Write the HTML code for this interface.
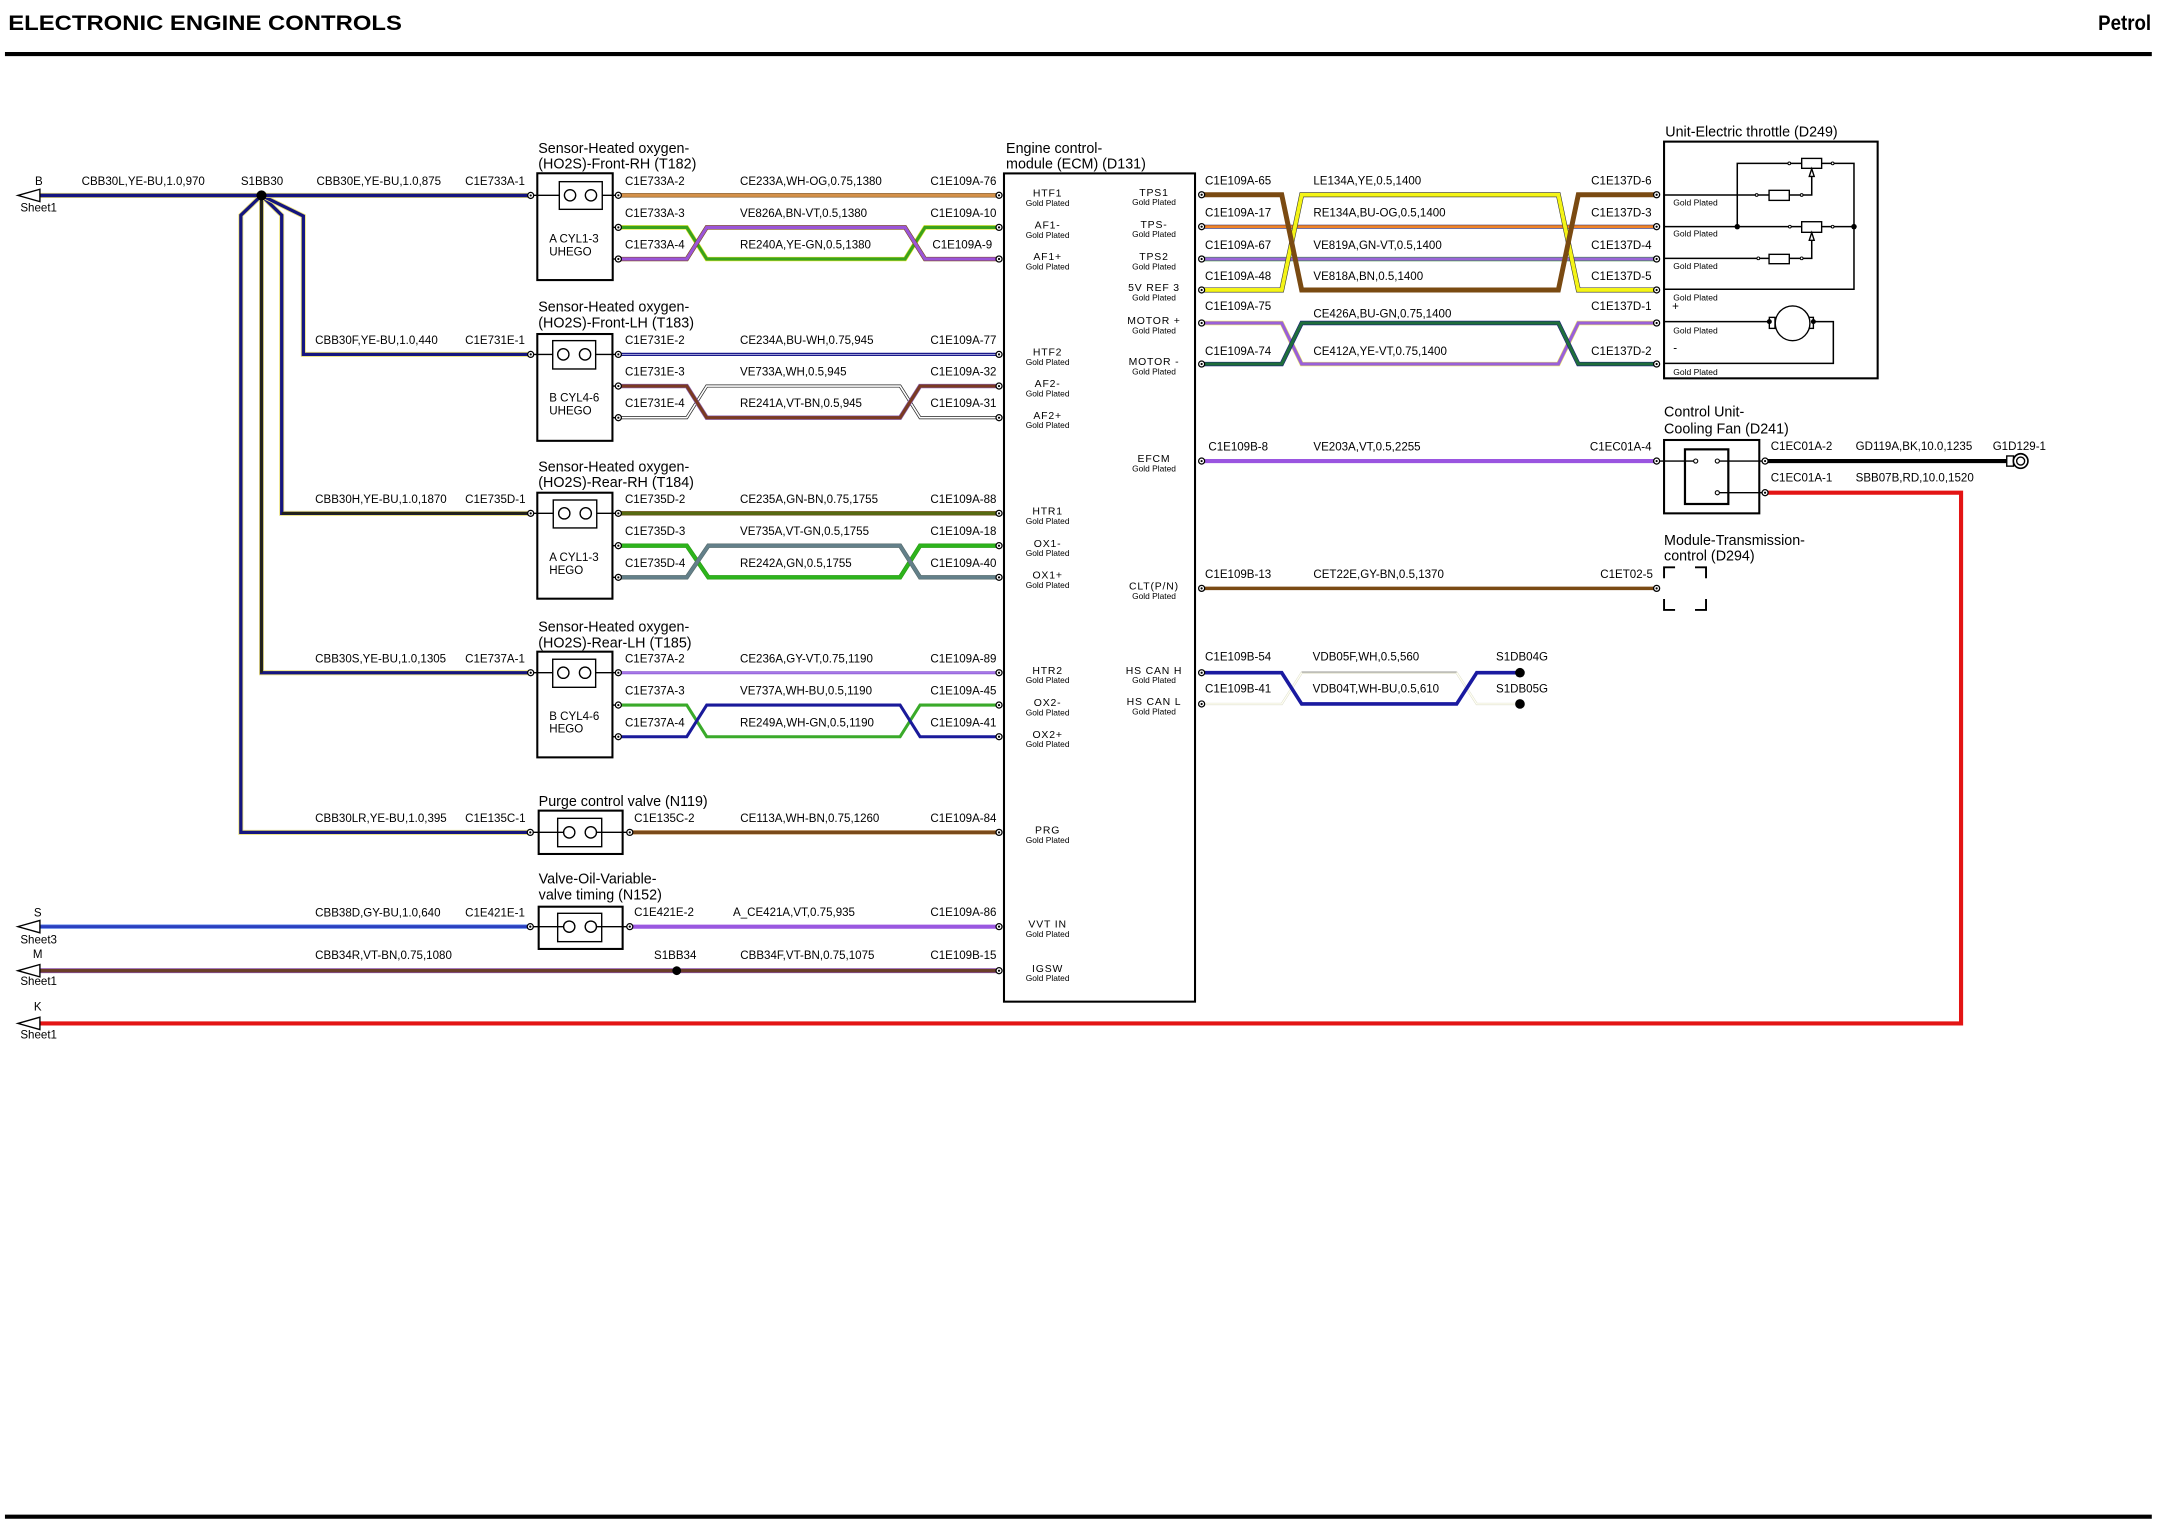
<!DOCTYPE html>
<html><head><meta charset="utf-8"><title>Electronic Engine Controls</title>
<style>
html,body{margin:0;padding:0;background:#fff;}
svg{display:block;}
text{font-family:"Liberation Sans",Arial,sans-serif;fill:#000;}
.t{font-size:8.4px;}
.ti{font-size:10.4px;}
.e{font-size:7.6px;letter-spacing:0.6px;text-anchor:middle;}
.g{font-size:6.1px;text-anchor:middle;}
.gp{font-size:6.2px;}
.h{font-size:15.3px;font-weight:bold;}
.end{text-anchor:end;}
.mid{text-anchor:middle;}
</style></head>
<body>
<svg width="2158" height="1528" viewBox="0 0 1568 1110.24" preserveAspectRatio="none" xmlns="http://www.w3.org/2000/svg">
<defs>
<g id="c"><circle r="2.2" fill="#fff" stroke="#000" stroke-width="0.9"/><circle r="0.8" fill="#000"/></g>
<path id="b0" d="M29,142 H385.6"/>
<path id="b1" d="M190,142 L175,156.4 V604.8 H385.3"/>
<path id="b2" d="M190,142 V488.8 H385.6"/>
<path id="b3" d="M190,142 L204.7,156.4 V373 H385.6"/>
<path id="b4" d="M190,142 L220.4,157 V257.5 H385.6"/>
<path id="s1" d="M449.3,141.9 H725.9"/>
<path id="s2" d="M449.3,188.2 H499 L513.5,165.2 H657.6 L672.1,188.2 H725.9"/>
<path id="s3" d="M449.3,165.2 H499 L513.5,188.2 H657.6 L672.1,165.2 H725.9"/>
<path id="s4" d="M449.3,257.5 H725.9"/>
<path id="s5" d="M449.3,303.5 H499 L513.5,280.5 H654 L668.5,303.5 H725.9"/>
<path id="s6" d="M449.3,280.5 H499 L513.5,303.5 H654 L668.5,280.5 H725.9"/>
<path id="s7" d="M449.3,373 H725.9"/>
<path id="s8" d="M449.3,419.5 H499 L514.7,396.5 H654 L668.5,419.5 H725.9"/>
<path id="s9" d="M449.3,396.5 H499 L514.7,419.5 H654 L668.5,396.5 H725.9"/>
<path id="s10" d="M449.3,488.8 H725.9"/>
<path id="s11" d="M449.3,535.3 H499 L513.5,512.3 H654 L668.5,535.3 H725.9"/>
<path id="s12" d="M449.3,512.3 H499 L513.5,535.3 H654 L668.5,512.3 H725.9"/>
<path id="s13" d="M457.6,604.8 H725.9"/>
<path id="s14" d="M457.6,673.3 H725.9"/>
<path id="s15" d="M29,673.3 H385.3"/>
<path id="s16" d="M29,705.3 H725.9"/>
<path id="t1" d="M873.1,141.5 H931.3 L945.8,210.7 H1132.3 L1146.8,141.5 H1203.7"/>
<path id="t2" d="M873.1,210.7 H931.3 L945.8,141.5 H1132.3 L1146.8,210.7 H1203.7"/>
<path id="t3" d="M873.1,164.7 H1203.7"/>
<path id="t4" d="M873.1,188.2 H1203.7"/>
<path id="t5" d="M873.1,264.5 H931.3 L945.8,234.7 H1132.3 L1146.8,264.5 H1203.7"/>
<path id="t6" d="M873.1,234.7 H931.3 L945.8,264.5 H1132.3 L1146.8,234.7 H1203.7"/>
<path id="h1" d="M873.1,488.8 H931.3 L945.8,511.5 H1058.4 L1073,488.8 H1104.4"/>
<path id="h2" d="M873.1,511.5 H931.3 L945.8,488.8 H1058.4 L1073,511.5 H1104.4"/>
</defs>

<text class="h" x="6" y="21.8" textLength="286" lengthAdjust="spacingAndGlyphs">ELECTRONIC ENGINE CONTROLS</text>
<text class="h end" x="1563" y="21.8" textLength="38.5" lengthAdjust="spacingAndGlyphs">Petrol</text>
<line x1="3.6" y1="39.3" x2="1563.5" y2="39.3" stroke="#000" stroke-width="3"/>
<line x1="3.6" y1="1102" x2="1563.5" y2="1102" stroke="#000" stroke-width="3"/>

<g fill="none" stroke-linejoin="miter">
<use href="#b1" stroke="#ece27a" stroke-width="3.6"/><use href="#b1" stroke="#15157f" stroke-width="2.4"/>
<use href="#b2" stroke="#ece27a" stroke-width="3.6"/><use href="#b2" stroke="#15157f" stroke-width="2.4"/>
<use href="#b3" stroke="#ece27a" stroke-width="3.6"/><use href="#b3" stroke="#15157f" stroke-width="2.4"/>
<use href="#b4" stroke="#ece27a" stroke-width="3.6"/><use href="#b4" stroke="#15157f" stroke-width="2.4"/>
<line x1="190" y1="142" x2="190" y2="488.8" stroke="#24240c" stroke-width="1.8"/>
<line x1="204.7" y1="373" x2="385.6" y2="373" stroke="#24240c" stroke-width="1.8"/>
<use href="#b0" stroke="#ece27a" stroke-width="3.8"/><use href="#b0" stroke="#15157f" stroke-width="2.6"/>

<use href="#s1" stroke="#7a5020" stroke-width="3.2"/><use href="#s1" stroke="#d4914a" stroke-width="2.3"/>
<use href="#s3" stroke="#e8ea30" stroke-width="3.2"/><use href="#s3" stroke="#3aa21c" stroke-width="2.3"/>
<use href="#s2" stroke="#7a4a1a" stroke-width="3.2"/><use href="#s2" stroke="#9b55d8" stroke-width="2.3"/>
<use href="#s4" stroke="#1a1a8a" stroke-width="2.4"/><use href="#s4" stroke="#c8c8f0" stroke-width="0.5"/>
<use href="#s5" stroke="#222" stroke-width="2.2"/><use href="#s5" stroke="#fff" stroke-width="1.2"/>
<use href="#s6" stroke="#8a60b0" stroke-width="3.2"/><use href="#s6" stroke="#7a3a22" stroke-width="2.3"/>
<use href="#s7" stroke="#6a4a10" stroke-width="3.2"/><use href="#s7" stroke="#566b12" stroke-width="2.3"/>
<use href="#s9" stroke="#2a9a14" stroke-width="3.2"/><use href="#s9" stroke="#2db41c" stroke-width="2.3"/>
<use href="#s8" stroke="#566a6a" stroke-width="3.2"/><use href="#s8" stroke="#63808a" stroke-width="2.3"/>
<use href="#s10" stroke="#8a5ad0" stroke-width="2.2"/><use href="#s10" stroke="#a878ea" stroke-width="1.2"/>
<use href="#s12" stroke="#3aaa2a" stroke-width="2.2"/>
<use href="#s11" stroke="#1a1a9a" stroke-width="2.2"/>
<use href="#s13" stroke="#c8a070" stroke-width="3.2"/><use href="#s13" stroke="#7a4a1a" stroke-width="2.3"/>
<use href="#s14" stroke="#9a58e0" stroke-width="3"/>
<use href="#s15" stroke="#8aa8f0" stroke-width="3.4"/><use href="#s15" stroke="#2a40c0" stroke-width="2.2"/>
<use href="#s16" stroke="#8a50a8" stroke-width="3.6"/><use href="#s16" stroke="#6a3e28" stroke-width="2.4"/>
<path d="M1282.5,358 H1424.9 V743.6 H29" stroke="#e31414" stroke-width="3"/>

<use href="#t3" stroke="#1a1a6a" stroke-width="2.8"/><use href="#t3" stroke="#f08428" stroke-width="2"/>
<use href="#t4" stroke="#2a8a2a" stroke-width="3.2"/><use href="#t4" stroke="#9a66d8" stroke-width="2.4"/>
<use href="#t2" stroke="#333" stroke-width="3.6"/><use href="#t2" stroke="#f4f416" stroke-width="2.8"/>
<use href="#t1" stroke="#7a4a12" stroke-width="3.6"/>
<use href="#t6" stroke="#ecec60" stroke-width="3.2"/><use href="#t6" stroke="#9a60d8" stroke-width="2.4"/>
<use href="#t5" stroke="#1a1a7a" stroke-width="3.2"/><use href="#t5" stroke="#1f6e3c" stroke-width="2.4"/>
<path d="M873.1,335 H1203.7" stroke="#9a55e0" stroke-width="3"/>
<path d="M873.1,427.5 H1203.7" stroke="#7a4a14" stroke-width="2.6"/>
<use href="#h2" stroke="#d8d8c8" stroke-width="1.6"/><use href="#h2" stroke="#fffff2" stroke-width="1"/>
<path d="M945.8,488.3 H1058.4" stroke="#555" stroke-width="0.5"/>
<use href="#h1" stroke="#1a1aa0" stroke-width="2.6"/>
<path d="M1282.5,335 H1458.1" stroke="#000" stroke-width="3"/>
</g>

<circle cx="190" cy="142" r="3.7" fill="#000"/>
<circle cx="491.7" cy="705.3" r="3.2" fill="#000"/>
<circle cx="1104.4" cy="488.8" r="3.5" fill="#000"/>
<circle cx="1104.4" cy="511.5" r="3.5" fill="#000"/>

<g fill="#fff" stroke="#000" stroke-width="1">
<polygon points="13,142 29,137.5 29,146.5"/>
<polygon points="13,673.3 29,668.8 29,677.8"/>
<polygon points="13,705.3 29,700.8 29,709.8"/>
<polygon points="13,743.6 29,739.1 29,748.1"/>
</g>

<g fill="#fff" stroke="#000">
<rect x="390.4" y="125.9" width="54.8" height="77.6" stroke-width="1.5"/>
<rect x="390.4" y="242.7" width="54.6" height="77.6" stroke-width="1.5"/>
<rect x="390.4" y="358" width="54.6" height="77" stroke-width="1.5"/>
<rect x="390.4" y="473.5" width="54.6" height="76.8" stroke-width="1.5"/>
<rect x="391.4" y="589" width="61" height="31.5" stroke-width="1.5"/>
<rect x="391.4" y="658.8" width="61" height="30.7" stroke-width="1.5"/>
<rect x="406.4" y="132" width="31.2" height="20.1" stroke-width="1"/>
<rect x="401.6" y="247.5" width="31.2" height="20.6" stroke-width="1"/>
<rect x="402" y="363.3" width="31.6" height="20.3" stroke-width="1"/>
<rect x="401.6" y="479" width="31.2" height="20.4" stroke-width="1"/>
<rect x="405.2" y="594.6" width="32" height="20.6" stroke-width="1"/>
<rect x="405.2" y="663.6" width="32" height="20.6" stroke-width="1"/>
</g>
<g stroke="#000" stroke-width="1">
<line x1="385.6" y1="141.9" x2="406.4" y2="141.9"/><line x1="437.6" y1="141.9" x2="449.3" y2="141.9"/>
<line x1="385.6" y1="257.5" x2="401.6" y2="257.5"/><line x1="432.8" y1="257.5" x2="449.3" y2="257.5"/>
<line x1="385.6" y1="373" x2="402" y2="373"/><line x1="433.6" y1="373" x2="449.3" y2="373"/>
<line x1="385.6" y1="488.8" x2="401.6" y2="488.8"/><line x1="432.8" y1="488.8" x2="449.3" y2="488.8"/>
<line x1="385.3" y1="604.8" x2="409.5" y2="604.8"/><line x1="433.4" y1="604.8" x2="457.6" y2="604.8"/>
<line x1="385.3" y1="673.3" x2="409.5" y2="673.3"/><line x1="433.4" y1="673.3" x2="457.6" y2="673.3"/>
<line x1="445" y1="165.2" x2="449.3" y2="165.2"/><line x1="445" y1="188.2" x2="449.3" y2="188.2"/>
<line x1="445" y1="280.5" x2="449.3" y2="280.5"/><line x1="445" y1="303.5" x2="449.3" y2="303.5"/>
<line x1="445" y1="396.5" x2="449.3" y2="396.5"/><line x1="445" y1="419.5" x2="449.3" y2="419.5"/>
<line x1="445" y1="512.3" x2="449.3" y2="512.3"/><line x1="445" y1="535.3" x2="449.3" y2="535.3"/>
</g>
<g fill="#fff" stroke="#000" stroke-width="1">
<circle cx="414.2" cy="141.9" r="4.1"/><circle cx="429.4" cy="141.9" r="4.1"/>
<circle cx="409.3" cy="257.5" r="4.1"/><circle cx="425.1" cy="257.5" r="4.1"/>
<circle cx="410" cy="373" r="4.1"/><circle cx="425.6" cy="373" r="4.1"/>
<circle cx="409.3" cy="488.8" r="4.1"/><circle cx="425.1" cy="488.8" r="4.1"/>
<circle cx="413.6" cy="604.8" r="4.1"/><circle cx="429.3" cy="604.8" r="4.1"/>
<circle cx="413.6" cy="673.3" r="4.1"/><circle cx="429.3" cy="673.3" r="4.1"/>
</g>

<rect x="729.5" y="126" width="138.8" height="601.8" fill="none" stroke="#000" stroke-width="1.5"/>

<rect x="1209.1" y="102.9" width="155.2" height="172" fill="none" stroke="#000" stroke-width="1.5"/>
<g stroke="#000" stroke-width="1.1" fill="none">
<path d="M1209.1,141.7 H1285.4 M1300.1,141.7 H1316.4 V127.5"/>
<path d="M1262.3,164.7 V118.7 H1347.1 V210.2 H1209.1"/>
<path d="M1209.1,164.7 H1347.1"/>
<path d="M1316.4,174 V187.7 H1300.1 M1285.4,187.7 H1209.1"/>
<path d="M1209.1,233.7 H1285.6 M1317.6,233.7 H1332.1 V264 H1209.1"/>
</g>
<g fill="#fff" stroke="#000" stroke-width="1">
<rect x="1285.4" y="138.3" width="14.7" height="7.3"/>
<rect x="1309.1" y="115.1" width="14.5" height="7.2"/>
<rect x="1309.1" y="161.1" width="14.5" height="7.7"/>
<rect x="1285.4" y="184.8" width="14.7" height="6.8"/>
<polygon points="1316.4,122.6 1314.6,128.2 1318.2,128.2"/>
<polygon points="1316.4,169 1314.6,174.6 1318.2,174.6"/>
<rect x="1285.6" y="230.6" width="4.1" height="8"/>
<rect x="1313.2" y="230.6" width="4.4" height="8"/>
<circle cx="1302.5" cy="234.9" r="12.6"/>
</g>
<g fill="#fff" stroke="#000" stroke-width="0.7">
<circle cx="1276.4" cy="141.7" r="1"/><circle cx="1309.1" cy="141.7" r="1"/>
<circle cx="1300.1" cy="118.7" r="1"/><circle cx="1331.6" cy="118.7" r="1"/>
<circle cx="1300.5" cy="164.7" r="1"/><circle cx="1331.6" cy="164.7" r="1"/>
<circle cx="1277.6" cy="187.7" r="1"/><circle cx="1309.1" cy="187.7" r="1"/>
</g>
<g fill="#000">
<circle cx="1262.3" cy="164.7" r="2"/><circle cx="1347.1" cy="164.7" r="2"/>
<circle cx="1285.6" cy="233.7" r="1.8"/><circle cx="1317.6" cy="233.7" r="1.8"/>
</g>

<rect x="1209.1" y="319.7" width="69.2" height="53.3" fill="none" stroke="#000" stroke-width="1.5"/>
<rect x="1224.3" y="326.5" width="31.5" height="39.7" fill="none" stroke="#000" stroke-width="1.6"/>
<g stroke="#000" stroke-width="1">
<line x1="1203.7" y1="335" x2="1232.1" y2="335"/>
<line x1="1247.8" y1="335" x2="1282.5" y2="335"/>
<line x1="1247.8" y1="358" x2="1282.5" y2="358"/>
</g>
<g fill="#fff" stroke="#000" stroke-width="0.8">
<circle cx="1232.1" cy="335" r="1.5"/><circle cx="1247.8" cy="335" r="1.5"/><circle cx="1247.8" cy="358" r="1.5"/>
</g>
<rect x="1458.1" y="331.3" width="4.9" height="7.4" fill="#fff" stroke="#000" stroke-width="1"/>
<circle cx="1468.2" cy="335" r="5.3" fill="#fff" stroke="#000" stroke-width="1.2"/>
<circle cx="1468.2" cy="335" r="2.9" fill="#fff" stroke="#000" stroke-width="1"/>

<g fill="none" stroke="#000" stroke-width="1.4">
<path d="M1209.1,420.2 V412.2 H1217.1"/>
<path d="M1231.6,412.2 H1239.6 V420.2"/>
<path d="M1209.1,435.2 V443.2 H1217.1"/>
<path d="M1231.6,443.2 H1239.6 V435.2"/>
</g>

<g>
<use href="#c" x="385.6" y="142"/><use href="#c" x="385.6" y="257.5"/><use href="#c" x="385.6" y="373"/>
<use href="#c" x="385.6" y="488.8"/><use href="#c" x="385.3" y="604.8"/><use href="#c" x="385.3" y="673.3"/>
<use href="#c" x="449.3" y="141.9"/><use href="#c" x="449.3" y="165.2"/><use href="#c" x="449.3" y="188.2"/>
<use href="#c" x="449.3" y="257.5"/><use href="#c" x="449.3" y="280.5"/><use href="#c" x="449.3" y="303.5"/>
<use href="#c" x="449.3" y="373"/><use href="#c" x="449.3" y="396.5"/><use href="#c" x="449.3" y="419.5"/>
<use href="#c" x="449.3" y="488.8"/><use href="#c" x="449.3" y="512.3"/><use href="#c" x="449.3" y="535.3"/>
<use href="#c" x="457.6" y="604.8"/><use href="#c" x="457.6" y="673.3"/>
<use href="#c" x="725.9" y="141.9"/><use href="#c" x="725.9" y="165.2"/><use href="#c" x="725.9" y="188.2"/>
<use href="#c" x="725.9" y="257.5"/><use href="#c" x="725.9" y="280.5"/><use href="#c" x="725.9" y="303.5"/>
<use href="#c" x="725.9" y="373"/><use href="#c" x="725.9" y="396.5"/><use href="#c" x="725.9" y="419.5"/>
<use href="#c" x="725.9" y="488.8"/><use href="#c" x="725.9" y="512.3"/><use href="#c" x="725.9" y="535.3"/>
<use href="#c" x="725.9" y="604.8"/><use href="#c" x="725.9" y="673.3"/><use href="#c" x="725.9" y="705.3"/>
<use href="#c" x="873.1" y="141.5"/><use href="#c" x="873.1" y="164.7"/><use href="#c" x="873.1" y="188.2"/>
<use href="#c" x="873.1" y="210.7"/><use href="#c" x="873.1" y="234.7"/><use href="#c" x="873.1" y="264.5"/>
<use href="#c" x="873.1" y="335"/><use href="#c" x="873.1" y="427.5"/><use href="#c" x="873.1" y="488.8"/>
<use href="#c" x="873.1" y="511.5"/>
<use href="#c" x="1203.7" y="141.5"/><use href="#c" x="1203.7" y="164.7"/><use href="#c" x="1203.7" y="188.2"/>
<use href="#c" x="1203.7" y="210.7"/><use href="#c" x="1203.7" y="234.7"/><use href="#c" x="1203.7" y="264.5"/>
<use href="#c" x="1203.7" y="335"/><use href="#c" x="1203.7" y="427.5"/>
<use href="#c" x="1282.5" y="335"/><use href="#c" x="1282.5" y="358"/>
</g>

<g class="t">
<text x="28.2" y="134.4" class="mid">B</text>
<text x="14.8" y="153.8">Sheet1</text>
<text x="59.3" y="134.4">CBB30L,YE-BU,1.0,970</text>
<text x="175" y="134.4">S1BB30</text>
<text x="230" y="134.4">CBB30E,YE-BU,1.0,875</text>
<text x="338" y="134.4">C1E733A-1</text>
<text x="229" y="250">CBB30F,YE-BU,1.0,440</text>
<text x="338" y="250">C1E731E-1</text>
<text x="229" y="365.5">CBB30H,YE-BU,1.0,1870</text>
<text x="338" y="365.5">C1E735D-1</text>
<text x="229" y="481.3">CBB30S,YE-BU,1.0,1305</text>
<text x="338" y="481.3">C1E737A-1</text>
<text x="229" y="597.2">CBB30LR,YE-BU,1.0,395</text>
<text x="338" y="597.2">C1E135C-1</text>
<text x="27.4" y="666" class="mid">S</text>
<text x="14.8" y="685.4">Sheet3</text>
<text x="229" y="665.8">CBB38D,GY-BU,1.0,640</text>
<text x="338" y="665.8">C1E421E-1</text>
<text x="27.4" y="696" class="mid">M</text>
<text x="14.8" y="715.7">Sheet1</text>
<text x="229" y="696.8">CBB34R,VT-BN,0.75,1080</text>
<text x="475.2" y="696.8">S1BB34</text>
<text x="537.9" y="696.8">CBB34F,VT-BN,0.75,1075</text>
<text x="676" y="696.8">C1E109B-15</text>
<text x="27.4" y="734.4" class="mid">K</text>
<text x="14.8" y="754.4">Sheet1</text>

<text x="399.1" y="176.1">A CYL1-3</text><text x="399.1" y="185.8">UHEGO</text>
<text x="399.1" y="291.9">B CYL4-6</text><text x="399.1" y="301.1">UHEGO</text>
<text x="399.1" y="407.6">A CYL1-3</text><text x="399.1" y="417.1">HEGO</text>
<text x="399.1" y="523.2">B CYL4-6</text><text x="399.1" y="532.4">HEGO</text>

<text x="454.1" y="134.3">C1E733A-2</text><text x="537.7" y="134.3">CE233A,WH-OG,0.75,1380</text><text x="676" y="134.3">C1E109A-76</text>
<text x="454.1" y="157.6">C1E733A-3</text><text x="537.7" y="157.6">VE826A,BN-VT,0.5,1380</text><text x="676" y="157.6">C1E109A-10</text>
<text x="454.1" y="180.6">C1E733A-4</text><text x="537.7" y="180.6">RE240A,YE-GN,0.5,1380</text><text x="677.5" y="180.6">C1E109A-9</text>
<text x="454.1" y="249.9">C1E731E-2</text><text x="537.7" y="249.9">CE234A,BU-WH,0.75,945</text><text x="676" y="249.9">C1E109A-77</text>
<text x="454.1" y="272.9">C1E731E-3</text><text x="537.7" y="272.9">VE733A,WH,0.5,945</text><text x="676" y="272.9">C1E109A-32</text>
<text x="454.1" y="295.9">C1E731E-4</text><text x="537.7" y="295.9">RE241A,VT-BN,0.5,945</text><text x="676" y="295.9">C1E109A-31</text>
<text x="454.1" y="365.4">C1E735D-2</text><text x="537.7" y="365.4">CE235A,GN-BN,0.75,1755</text><text x="676" y="365.4">C1E109A-88</text>
<text x="454.1" y="388.9">C1E735D-3</text><text x="537.7" y="388.9">VE735A,VT-GN,0.5,1755</text><text x="676" y="388.9">C1E109A-18</text>
<text x="454.1" y="411.9">C1E735D-4</text><text x="537.7" y="411.9">RE242A,GN,0.5,1755</text><text x="676" y="411.9">C1E109A-40</text>
<text x="454.1" y="481.2">C1E737A-2</text><text x="537.7" y="481.2">CE236A,GY-VT,0.75,1190</text><text x="676" y="481.2">C1E109A-89</text>
<text x="454.1" y="504.7">C1E737A-3</text><text x="537.7" y="504.7">VE737A,WH-BU,0.5,1190</text><text x="676" y="504.7">C1E109A-45</text>
<text x="454.1" y="527.7">C1E737A-4</text><text x="537.7" y="527.7">RE249A,WH-GN,0.5,1190</text><text x="676" y="527.7">C1E109A-41</text>
<text x="460.8" y="597.2">C1E135C-2</text><text x="537.9" y="597.2">CE113A,WH-BN,0.75,1260</text><text x="676" y="597.2">C1E109A-84</text>
<text x="460.8" y="665.7">C1E421E-2</text><text x="532.6" y="665.7">A_CE421A,VT,0.75,935</text><text x="676" y="665.7">C1E109A-86</text>

<text x="875.6" y="134.2">C1E109A-65</text><text x="954.3" y="134.2">LE134A,YE,0.5,1400</text><text x="1200" y="134.2" class="end">C1E137D-6</text>
<text x="875.6" y="157.4">C1E109A-17</text><text x="954.3" y="157.4">RE134A,BU-OG,0.5,1400</text><text x="1200" y="157.4" class="end">C1E137D-3</text>
<text x="875.6" y="180.9">C1E109A-67</text><text x="954.3" y="180.9">VE819A,GN-VT,0.5,1400</text><text x="1200" y="180.9" class="end">C1E137D-4</text>
<text x="875.6" y="203.4">C1E109A-48</text><text x="954.3" y="203.4">VE818A,BN,0.5,1400</text><text x="1200" y="203.4" class="end">C1E137D-5</text>
<text x="875.6" y="225.3">C1E109A-75</text><text x="954.3" y="230.6">CE426A,BU-GN,0.75,1400</text><text x="1200" y="225.3" class="end">C1E137D-1</text>
<text x="875.6" y="258">C1E109A-74</text><text x="954.3" y="258">CE412A,YE-VT,0.75,1400</text><text x="1200" y="258" class="end">C1E137D-2</text>
<text x="878" y="327.4">C1E109B-8</text><text x="954.3" y="327.4">VE203A,VT,0.5,2255</text><text x="1200" y="327.4" class="end">C1EC01A-4</text>
<text x="875.6" y="419.9">C1E109B-13</text><text x="954.3" y="419.9">CET22E,GY-BN,0.5,1370</text><text x="1201" y="419.9" class="end">C1ET02-5</text>
<text x="875.6" y="480">C1E109B-54</text><text x="953.8" y="480">VDB05F,WH,0.5,560</text><text x="1087" y="480">S1DB04G</text>
<text x="875.6" y="503.3">C1E109B-41</text><text x="953.8" y="503.3">VDB04T,WH-BU,0.5,610</text><text x="1087" y="503.3">S1DB05G</text>
<text x="1286.6" y="327">C1EC01A-2</text><text x="1348.3" y="327">GD119A,BK,10.0,1235</text><text x="1447.9" y="327">G1D129-1</text>
<text x="1286.6" y="350">C1EC01A-1</text><text x="1348.3" y="350">SBB07B,RD,10.0,1520</text>
<text x="1215" y="225.3">+</text>
<text x="1215.8" y="255.5">-</text>
</g>

<g class="ti">
<text x="391.1" y="111">Sensor-Heated oxygen-</text><text x="391.1" y="122.6">(HO2S)-Front-RH (T182)</text>
<text x="391.1" y="226.5">Sensor-Heated oxygen-</text><text x="391.1" y="238.1">(HO2S)-Front-LH (T183)</text>
<text x="391.1" y="342.5">Sensor-Heated oxygen-</text><text x="391.1" y="354">(HO2S)-Rear-RH (T184)</text>
<text x="391.1" y="459">Sensor-Heated oxygen-</text><text x="391.1" y="470.4">(HO2S)-Rear-LH (T185)</text>
<text x="391.4" y="585.6">Purge control valve (N119)</text>
<text x="391.4" y="641.8">Valve-Oil-Variable-</text><text x="391.4" y="653.4">valve timing (N152)</text>
<text x="731" y="111">Engine control-</text><text x="731" y="122.6">module (ECM) (D131)</text>
<text x="1210" y="99.3">Unit-Electric throttle (D249)</text>
<text x="1209.1" y="302.8">Control Unit-</text><text x="1209.1" y="314.9">Cooling Fan (D241)</text>
<text x="1209.1" y="396">Module-Transmission-</text><text x="1209.1" y="407.4">control (D294)</text>
</g>

<g class="e">
<text x="761.2" y="142.7">HTF1</text><text x="761.2" y="166">AF1-</text><text x="761.2" y="189">AF1+</text>
<text x="761.2" y="258.3">HTF2</text><text x="761.2" y="281.3">AF2-</text><text x="761.2" y="304.3">AF2+</text>
<text x="761.2" y="373.8">HTR1</text><text x="761.2" y="397.3">OX1-</text><text x="761.2" y="420.3">OX1+</text>
<text x="761.2" y="489.6">HTR2</text><text x="761.2" y="513.1">OX2-</text><text x="761.2" y="536.1">OX2+</text>
<text x="761.2" y="605.6">PRG</text><text x="761.2" y="674.1">VVT IN</text><text x="761.2" y="706.1">IGSW</text>
<text x="838.5" y="142.3">TPS1</text><text x="838.5" y="165.5">TPS-</text><text x="838.5" y="189">TPS2</text>
<text x="838.5" y="211.5">5V REF 3</text><text x="838.5" y="235.5">MOTOR +</text><text x="838.5" y="265.3">MOTOR -</text>
<text x="838.5" y="335.8">EFCM</text><text x="838.5" y="428.3">CLT(P/N)</text>
<text x="838.5" y="489.6">HS CAN H</text><text x="838.5" y="512.3">HS CAN L</text>
</g>
<g class="g">
<text x="761.2" y="149.5">Gold Plated</text><text x="761.2" y="172.8">Gold Plated</text><text x="761.2" y="195.8">Gold Plated</text>
<text x="761.2" y="265.1">Gold Plated</text><text x="761.2" y="288.1">Gold Plated</text><text x="761.2" y="311.1">Gold Plated</text>
<text x="761.2" y="380.6">Gold Plated</text><text x="761.2" y="404.1">Gold Plated</text><text x="761.2" y="427.1">Gold Plated</text>
<text x="761.2" y="496.4">Gold Plated</text><text x="761.2" y="519.9">Gold Plated</text><text x="761.2" y="542.9">Gold Plated</text>
<text x="761.2" y="612.4">Gold Plated</text><text x="761.2" y="680.9">Gold Plated</text><text x="761.2" y="712.9">Gold Plated</text>
<text x="838.5" y="149.1">Gold Plated</text><text x="838.5" y="172.3">Gold Plated</text><text x="838.5" y="195.8">Gold Plated</text>
<text x="838.5" y="218.3">Gold Plated</text><text x="838.5" y="242.3">Gold Plated</text><text x="838.5" y="272.1">Gold Plated</text>
<text x="838.5" y="342.6">Gold Plated</text><text x="838.5" y="435.1">Gold Plated</text>
<text x="838.5" y="496.4">Gold Plated</text><text x="838.5" y="519.1">Gold Plated</text>
</g>
<g class="gp">
<text x="1215.8" y="149.4">Gold Plated</text>
<text x="1215.8" y="172">Gold Plated</text>
<text x="1215.8" y="195.5">Gold Plated</text>
<text x="1215.8" y="218.5">Gold Plated</text>
<text x="1215.8" y="242.2">Gold Plated</text>
<text x="1215.8" y="272.5">Gold Plated</text>
</g>
</svg>
</body></html>
